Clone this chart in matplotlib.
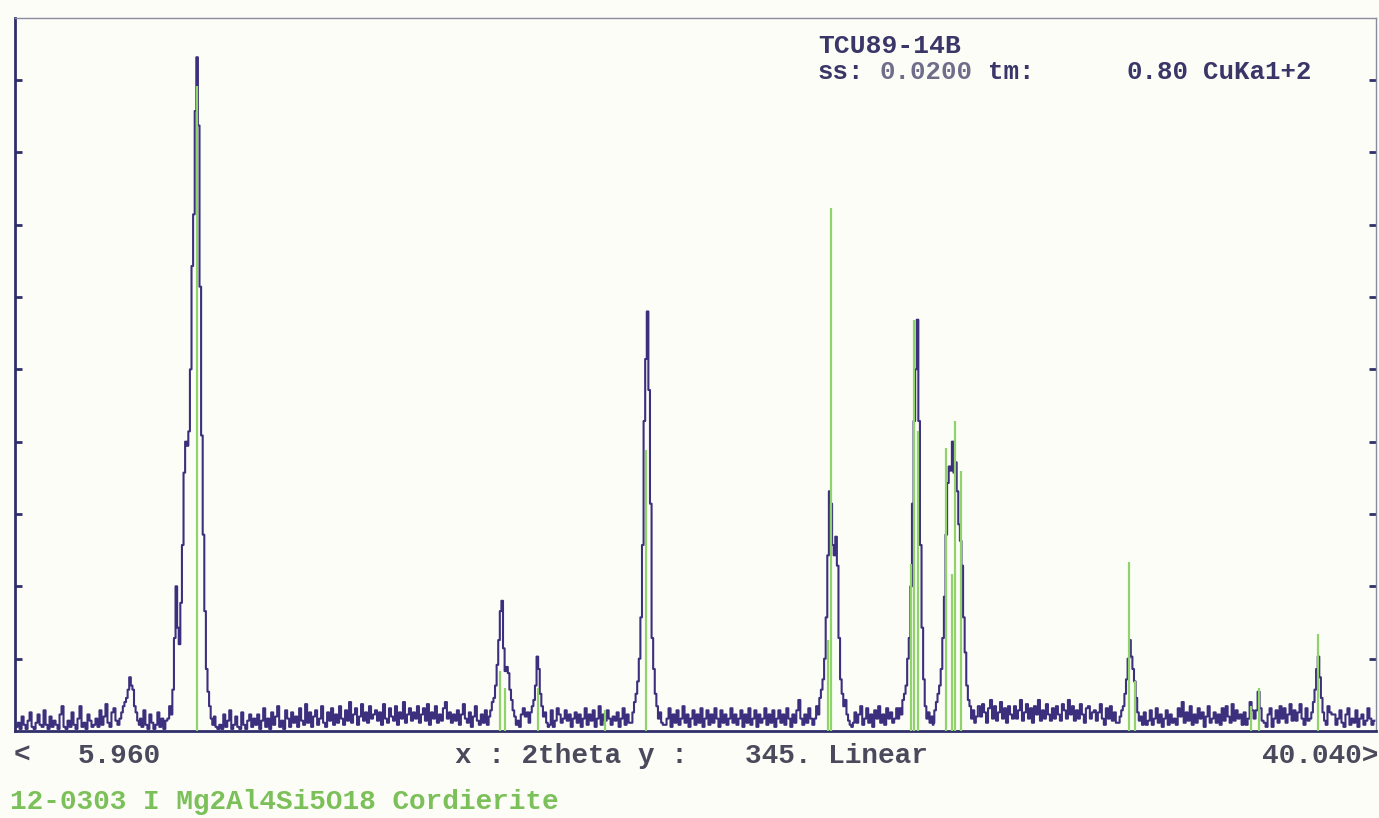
import numpy as np
import matplotlib
matplotlib.use("Agg")
import matplotlib.pyplot as plt

# scan range (2theta, degrees) and max count shown on the plot
x_start, x_end = 5.96, 40.04
y_max = 345

# background counts on a 0.05 deg grid starting at 6.00 (one row per degree)
bg_start, bg_step = 6.00, 0.05
bg_counts = [
    2, 4, 1, 7, 3, 1, 5, 9, 2, 1, 4, 8, 3, 2, 10, 3, 1, 7, 2, 5,           # 6
    3, 1, 8, 12, 2, 1, 5, 2, 9, 3, 1, 6, 12, 2, 4, 1, 8, 5, 2, 3,          # 7
    6, 2, 10, 3, 7, 13, 4, 2, 9, 11, 5, 3, 8, 14, 10, 8, 12, 10, 9, 11,    # 8
    9, 3, 6, 2, 10, 3, 1, 8, 4, 1, 3, 9, 2, 6, 1, 5, 11, 3, 8, 14,         # 9
    9, 6, 8, 11, 7, 5, 9, 12, 6, 8, 10, 5, 7, 9, 4, 8, 6, 10, 7, 5,        # 10
    5, 1, 3, 1, 8, 2, 5, 10, 1, 3, 7, 2, 1, 9, 3, 1, 5, 8, 2, 6,           # 11
    3, 8, 1, 5, 11, 2, 6, 1, 9, 3, 7, 12, 2, 5, 1, 10, 6, 2, 9, 4,         # 12
    7, 2, 11, 5, 3, 13, 4, 9, 2, 7, 10, 3, 6, 12, 4, 2, 9, 5, 11, 3,       # 13
    8, 4, 12, 6, 3, 10, 5, 14, 4, 8, 11, 3, 7, 13, 5, 9, 4, 12, 6, 8,      # 14
    10, 5, 9, 3, 13, 6, 4, 11, 7, 5, 12, 3, 9, 6, 14, 4, 8, 11, 5, 9,      # 15
    6, 12, 4, 8, 11, 5, 13, 3, 9, 6, 12, 4, 8, 5, 11, 14, 6, 9, 4, 8,      # 16
    5, 10, 3, 8, 13, 6, 4, 9, 2, 7, 12, 5, 3, 8, 4, 10, 6, 15, 8, 12,      # 17
    12, 10, 14, 9, 11, 8, 13, 10, 7, 12, 9, 6, 10, 8, 11, 7, 9, 12, 8, 10, # 18
    6, 3, 9, 5, 11, 7, 6, 3, 10, 2, 5, 11, 8, 4, 6, 10, 5, 8, 2, 6,        # 19
    9, 4, 8, 2, 6, 11, 3, 8, 5, 10, 2, 6, 12, 3, 8, 5, 10, 6, 3, 7,        # 20
    5, 9, 2, 6, 11, 3, 8, 4, 10, 6, 10, 8, 12, 9, 7, 10, 8, 11, 9, 7,      # 21
    6, 2, 8, 4, 10, 3, 6, 11, 2, 8, 4, 10, 3, 6, 12, 4, 8, 2, 6, 10,       # 22
    3, 8, 4, 11, 2, 6, 10, 3, 8, 4, 11, 6, 2, 10, 4, 8, 3, 6, 11, 4,       # 23
    8, 3, 6, 10, 2, 8, 4, 11, 3, 6, 10, 2, 8, 4, 6, 11, 3, 8, 4, 10,       # 24
    2, 6, 10, 4, 8, 3, 11, 6, 2, 8, 4, 10, 15, 6, 3, 8, 4, 11, 6, 3,       # 25
    10, 8, 12, 9, 11, 7, 10, 8, 12, 9, 11, 10, 8, 12, 9, 7, 10, 11, 8, 9,  # 26
    9, 4, 8, 12, 3, 6, 11, 4, 8, 2, 10, 6, 12, 4, 8, 3, 11, 6, 9, 4,       # 27
    6, 11, 4, 8, 3, 10, 9, 13, 8, 10, 12, 9, 11, 8, 10, 9, 12, 8, 10, 9,   # 28
    8, 10, 9, 11, 8, 10, 12, 9, 10, 11, 9, 8, 10, 12, 9, 11, 10, 8, 9, 10, # 29
    10, 5, 12, 7, 13, 9, 4, 11, 15, 6, 12, 5, 9, 14, 6, 11, 4, 12, 8, 6,   # 30
    12, 6, 10, 15, 5, 9, 13, 6, 11, 4, 12, 8, 15, 5, 10, 6, 13, 8, 5, 11,  # 31
    6, 12, 8, 5, 13, 10, 6, 15, 8, 12, 5, 10, 6, 13, 8, 4, 11, 12, 6, 9,   # 32
    10, 5, 9, 13, 6, 3, 11, 6, 12, 5, 9, 4, 11, 6, 9, 11, 10, 12, 9, 10,   # 33
    9, 11, 10, 8, 12, 9, 3, 5, 10, 3, 6, 11, 4, 8, 2, 6, 10, 3, 8, 4,      # 34
    6, 3, 11, 7, 14, 4, 9, 5, 12, 3, 8, 4, 11, 6, 9, 2, 7, 12, 4, 6,       # 35
    9, 4, 8, 3, 11, 5, 12, 7, 4, 13, 5, 10, 6, 8, 3, 9, 3, 6, 14, 10,      # 36
    6, 10, 19, 11, 5, 4, 2, 8, 11, 2, 6, 10, 4, 12, 6, 11, 4, 8, 13, 5,    # 37
    10, 5, 9, 13, 6, 3, 11, 5, 12, 11, 9, 12, 10, 8, 9, 10, 11, 12, 9, 8,  # 38
    8, 3, 6, 10, 4, 2, 8, 11, 3, 6, 4, 10, 2, 6, 8, 3, 5, 11, 6, 3,        # 39
    5,                                                                     # 40.00
]

# peak profiles, 0.04 deg step: (first 2theta, counts)
peak_step = 0.04
peak_profiles = [
    (8.60, [6, 9, 12, 14, 16, 20, 26, 22, 20, 12, 9, 5, 3]),
    (9.80, [6, 12, 8, 20, 45, 70, 50, 42, 62, 90, 125, 140, 138, 145, 175, 225,
            250, 300, 326, 293, 215, 143, 95, 58, 30, 19, 12, 6, 3, 7, 2]),
    (17.80, [3, 7, 10, 14, 16, 22, 32, 44, 58, 63, 40, 29, 31, 28, 20, 15, 10, 7, 3, 5, 2]),
    (18.84, [4, 9, 12, 15, 22, 36, 30, 18, 12, 7, 9, 4, 2]),
    (21.40, [4, 9, 14, 18, 24, 35, 55, 90, 150, 180, 203, 165, 110, 45, 30, 18, 12, 6, 9, 4, 3]),
    (26.00, [6, 12, 8, 16, 20, 25, 35, 55, 85, 116, 110, 90, 85, 94, 80, 45, 25, 18,
             12, 15, 8, 5, 3, 2, 4]),
    (28.08, [6, 11, 8, 15, 18, 22, 35, 45, 70, 110, 150, 175, 199, 150, 90, 50, 25,
             12, 6, 9, 4, 7, 3]),
    (28.96, [4, 10, 14, 18, 22, 30, 45, 65, 95, 120, 128, 126, 140, 125, 130, 116, 100,
             92, 80, 55, 38, 22, 15, 12, 6, 10, 4, 7]),
    (33.60, [4, 7, 10, 12, 18, 25, 35, 44, 36, 30, 24, 16, 9, 5, 7, 3]),
    (38.40, [6, 9, 14, 20, 30, 36, 26, 16, 9, 5, 3]),
]

# reference pattern 12-0303 cordierite sticks (2theta, scaled height)
stick_theta = [10.52, 18.10, 18.22, 19.05, 20.73, 21.75, 26.33, 26.40, 28.40, 28.48,
               28.58, 29.28, 29.43, 29.51, 29.66, 33.86, 34.00, 36.90, 37.10, 38.58]
stick_height = [312, 29, 21, 21, 10, 136, 44, 253, 81, 199,
                145, 137, 76, 150, 126, 82, 24, 12, 21, 47]

# merge background and peak profiles into one trace
bg_theta = bg_start + bg_step * np.arange(len(bg_counts))
bg_vals = np.array(bg_counts, dtype=float)
keep = np.ones(len(bg_theta), dtype=bool)
px, py = [], []
for start, vals in peak_profiles:
    th = start + peak_step * np.arange(len(vals))
    keep &= ~((bg_theta >= th[0] - 0.01) & (bg_theta <= th[-1] + 0.01))
    px.append(th)
    py.append(np.array(vals, dtype=float))
theta = np.concatenate([bg_theta[keep]] + px)
counts = np.concatenate([bg_vals[keep]] + py)
order = np.argsort(theta)
theta, counts = theta[order], counts[order]

trace_color = "#3b2f7e"
stick_color = "#8fd36a"
text_color = "#3a3768"
caption_color = "#4a4a5c"
bg_color = "#fdfdf8"

fig = plt.figure(figsize=(13.79, 8.18), dpi=100, facecolor=bg_color)
ax = fig.add_axes([15 / 1379, 1 - 731 / 818, 1361 / 1379, 713 / 818])
ax.set_facecolor(bg_color)

ax.vlines(stick_theta, 0, stick_height, color=stick_color, lw=1.6, zorder=3)
ax.plot(theta, counts, drawstyle="steps-mid", color=trace_color, lw=1.5, zorder=2)

ax.set_xlim(x_start, x_end)
ax.set_ylim(0, y_max)
ax.set_xticks([])
ax.set_yticks(np.arange(35, y_max, 35))
ax.tick_params(axis="y", direction="in", length=5, width=2, color="#2f2f6a",
               left=True, right=True, labelleft=False)
for side in ["left", "bottom"]:
    ax.spines[side].set_color("#2f2f6a")
    ax.spines[side].set_linewidth(2)
for side in ["top", "right"]:
    ax.spines[side].set_color("#8a8aa0")
    ax.spines[side].set_linewidth(1)

def put(x_px, y_px, s, color=text_color, size=20):
    fig.text(x_px / 1379, 1 - y_px / 818, s, color=color, va="center", ha="left",
             family="Liberation Mono", weight="bold", fontsize=size)

# header: second line laid out on a fixed character grid
put(818, 46, "TCU89-14B", size=19)
hdr_size = 18.5
pitch = 0.6 * hdr_size * 100 / 72
put(818, 72, "ss:", size=hdr_size)
put(818 + 4 * pitch, 72, "0.0200", color="#6f6d8a", size=hdr_size)
put(818 + 11 * pitch, 72, "tm:", size=hdr_size)
put(818 + 20 * pitch, 72, "0.80", size=hdr_size)
put(818 + 25 * pitch, 72, "CuKa1+2", size=hdr_size)

# axis caption line
put(14, 756, "<", color=caption_color)
put(78, 756, "5.960", color=caption_color)
put(455, 756, "x : 2theta y :", color=caption_color)
put(745, 756, "345. Linear", color=caption_color)
put(1262, 756, "40.040>", color=caption_color)

# phase label
put(10, 802, "12-0303 I Mg2Al4Si5O18 Cordierite", color="#7cc05a")

fig.savefig("out.png", dpi=100, facecolor=bg_color)
